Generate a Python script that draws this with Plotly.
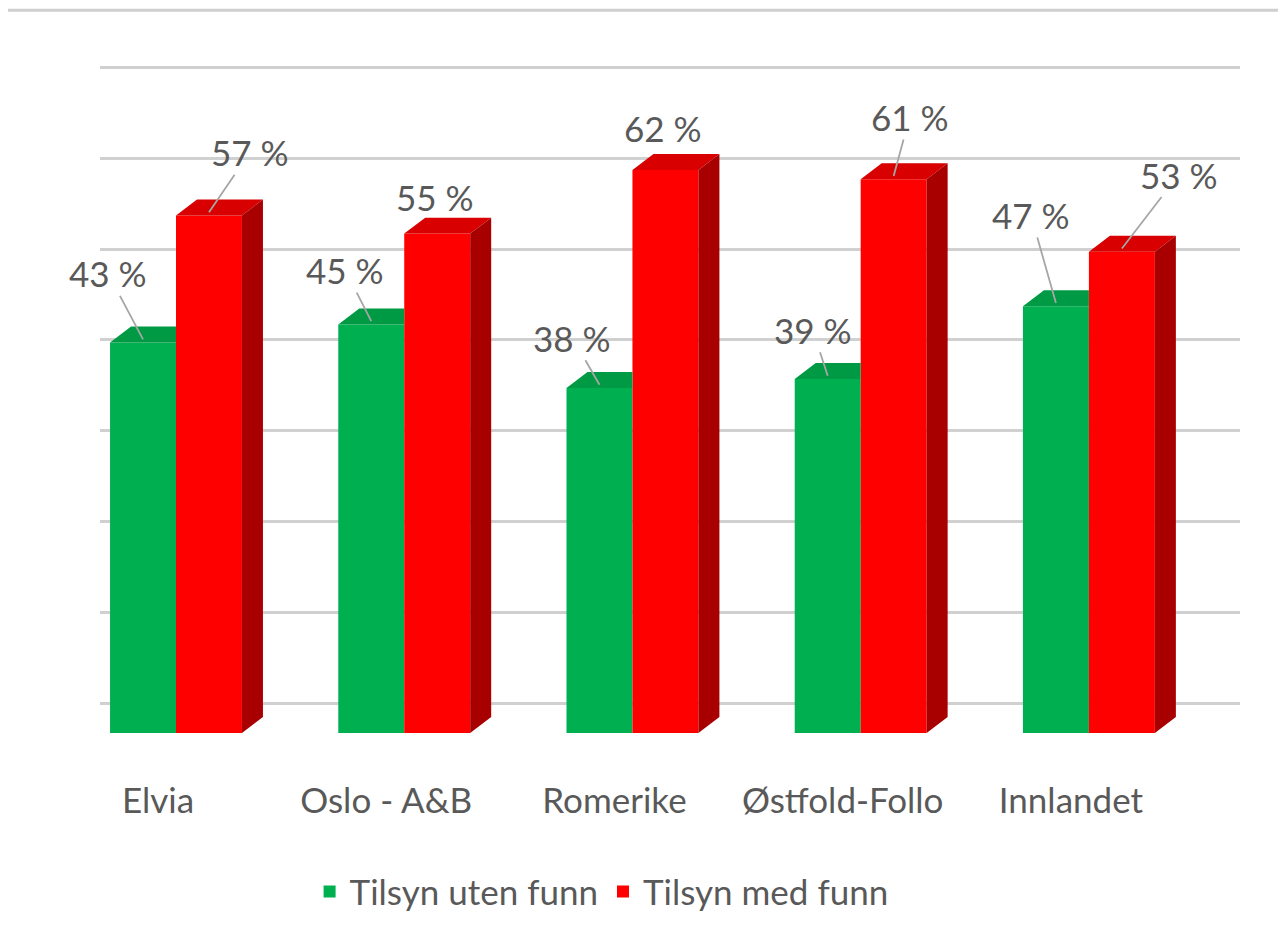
import plotly.graph_objects as go

# ---- data ----
categories = ["Elvia", "Oslo - A&B", "Romerike", "Østfold-Follo", "Innlandet"]
uten_funn = [43, 45, 38, 39, 47]   # Tilsyn uten funn (%)
med_funn = [57, 55, 62, 61, 53]    # Tilsyn med funn (%)
series_names = ["Tilsyn uten funn", "Tilsyn med funn"]

# ---- styling / geometry parameters ----
GREEN = "#00B050"
GREEN_TOP = "#009A44"
RED = "#FF0000"
RED_TOP = "#D80000"
RED_SIDE = "#A80000"
TEXT = "#595959"
FONT = "Lato"
FS = 35

W = 0.289      # bar width in category units
DX = 0.092     # 3D depth, x (category units)
DY = 1.76      # 3D depth, y (percent units)
GRID_SHIFT = 3.3  # back-wall gridline offset

# label offsets (pixels) relative to leader-line tip
green_off = [(-35, -66), (-26, -51), (-27, -47), (-15, -46), (-25, -88)]
red_off = [(41, -60), (-2, -33), (-2, -39), (16, -59), (57, -74)]
green_leader = [True, True, True, True, True]
red_leader = [True, False, False, True, True]

idx = list(range(len(categories)))

fig = go.Figure()

fig.add_trace(go.Bar(
    x=idx, y=uten_funn, width=W, offset=-W, name=series_names[0],
    marker=dict(color=GREEN, line=dict(width=0)), hoverinfo="skip"))

# green top faces (clipped at the red bar's front)
gx, gy = [], []
for i, v in zip(idx, uten_funn):
    gx += [i - W, i - W + DX, i, i, i - W, None]
    gy += [v, v + DY, v + DY, v, v, None]
fig.add_trace(go.Scatter(x=gx, y=gy, fill="toself", fillcolor=GREEN_TOP,
                         mode="lines", line=dict(width=0), showlegend=False,
                         hoverinfo="skip"))

fig.add_trace(go.Bar(
    x=idx, y=med_funn, width=W, offset=0, name=series_names[1],
    marker=dict(color=RED, line=dict(width=0)), hoverinfo="skip"))

rx, ry, sx, sy = [], [], [], []
for i, v in zip(idx, med_funn):
    rx += [i, i + DX, i + W + DX, i + W, i, None]
    ry += [v, v + DY, v + DY, v, v, None]
    sx += [i + W, i + W, i + W + DX, i + W + DX, i + W, None]
    sy += [0, v, v + DY, DY, 0, None]
fig.add_trace(go.Scatter(x=rx, y=ry, fill="toself", fillcolor=RED_TOP,
                         mode="lines", line=dict(width=0), showlegend=False,
                         hoverinfo="skip"))
fig.add_trace(go.Scatter(x=sx, y=sy, fill="toself", fillcolor=RED_SIDE,
                         mode="lines", line=dict(width=0), showlegend=False,
                         hoverinfo="skip"))

# data labels with leader lines
annotations = []
for i, v, (ax, ay), show in zip(idx, uten_funn, green_off, green_leader):
    annotations.append(dict(
        x=i - W / 2, y=v + DY * 0.2, text=f"{v} %", showarrow=True,
        arrowhead=0, arrowwidth=1.8, arrowcolor="#A6A6A6" if show else "rgba(0,0,0,0)",
        ax=ax, ay=ay, font=dict(family=FONT, size=FS, color=TEXT)))
for i, v, (ax, ay), show in zip(idx, med_funn, red_off, red_leader):
    annotations.append(dict(
        x=i + W / 2, y=v + DY * 0.2, text=f"{v} %", showarrow=True,
        arrowhead=0, arrowwidth=1.8, arrowcolor="#A6A6A6" if show else "rgba(0,0,0,0)",
        ax=ax, ay=ay, font=dict(family=FONT, size=FS, color=TEXT)))

fig.update_layout(
    width=1286, height=952,
    margin=dict(l=92, r=54, t=52, b=227),
    paper_bgcolor="white", plot_bgcolor="white",
    barmode="overlay",
    font=dict(family=FONT, color=TEXT),
    annotations=annotations,
    showlegend=True,
    legend=dict(orientation="h", x=0.44, xanchor="center", y=-0.236,
                yanchor="middle", font=dict(family=FONT, size=FS, color=TEXT),
                itemwidth=30, traceorder="normal"),
    shapes=[dict(type="line", xref="paper", yref="paper",
                 x0=-0.081, x1=1.05, y0=1.074, y1=1.074,
                 line=dict(color="#cfcfcf", width=3))],
)

fig.update_xaxes(
    range=[-0.333, 4.662], tickvals=idx, ticktext=categories,
    showgrid=False, zeroline=False, showline=False, ticks="",
    ticklabelshift=-18, ticklabelstandoff=44,
    tickfont=dict(family=FONT, size=FS, color=TEXT))
fig.update_yaxes(
    range=[0, 74.12], tick0=GRID_SHIFT, dtick=10,
    showgrid=True, gridcolor="#d0d0d0", gridwidth=2.5,
    zeroline=False, showline=False, showticklabels=False, ticks="")

fig.write_html("out.html")
